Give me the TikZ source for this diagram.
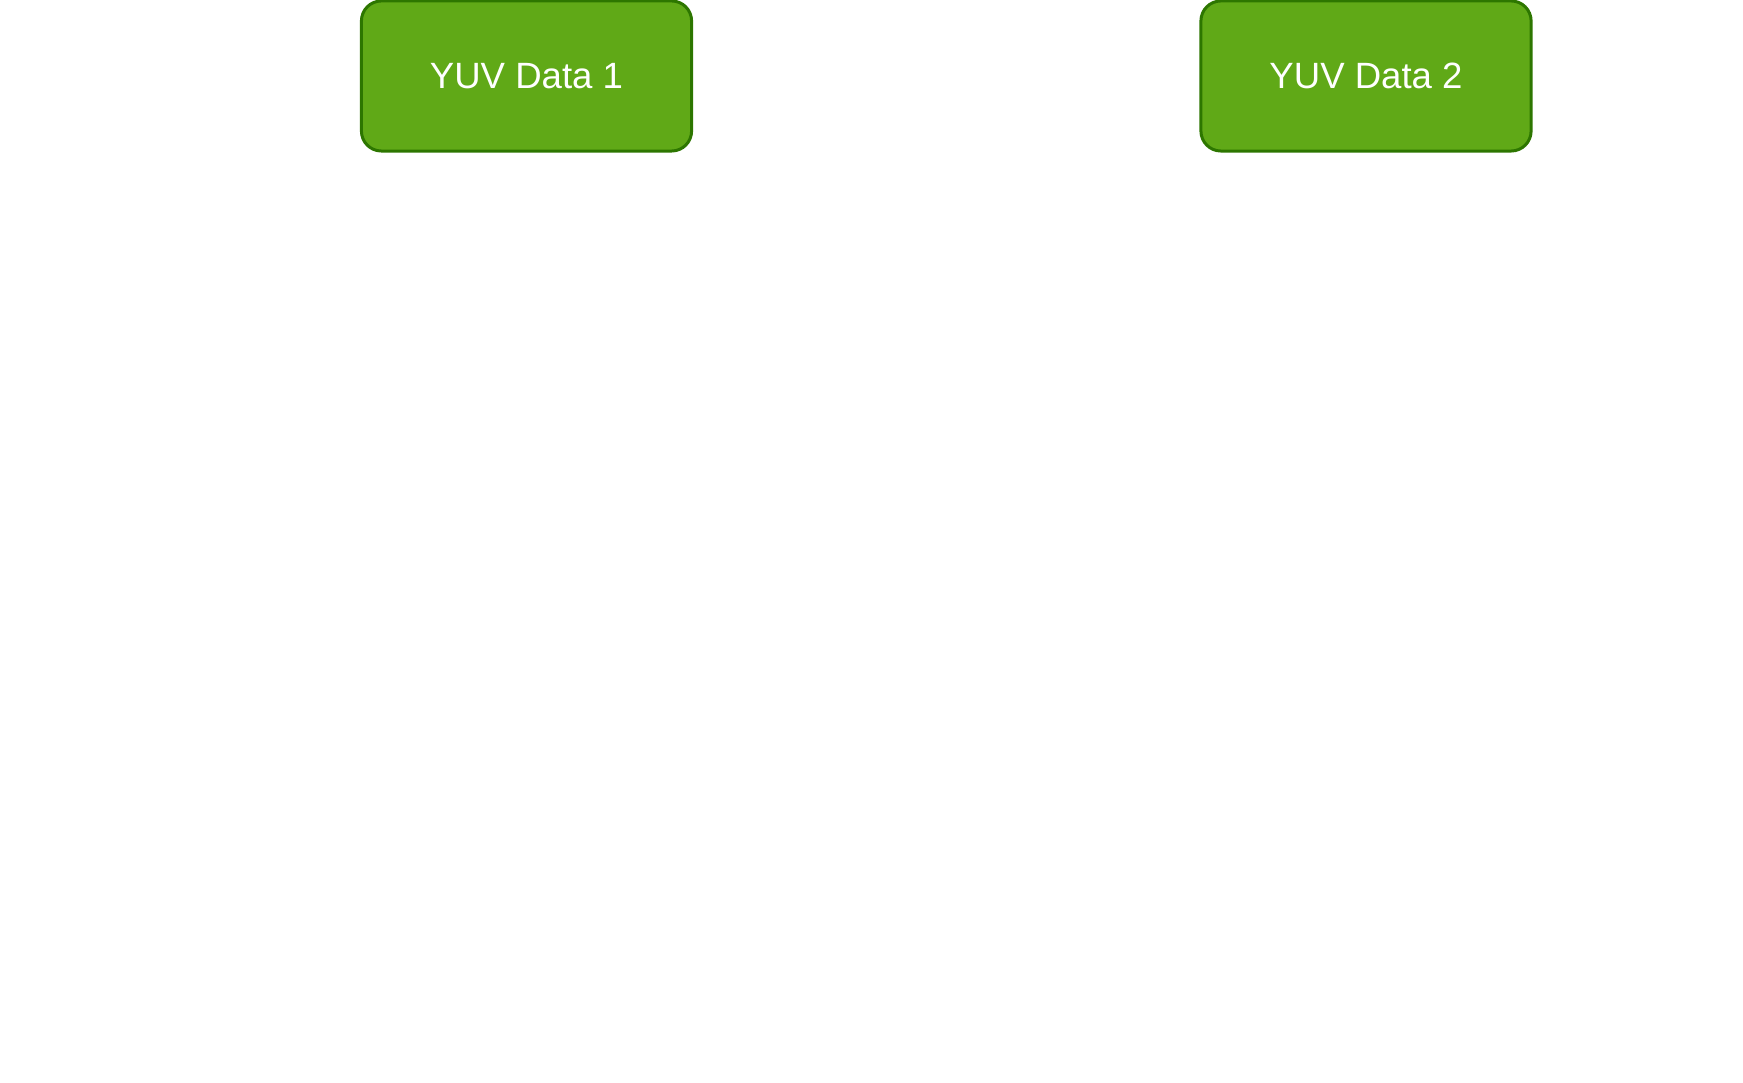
\documentclass[tikz,border=0pt]{standalone}
\usepackage{fontspec}
\setmainfont{Liberation Sans}
\usepackage{tikz}
\usetikzlibrary{positioning}

\definecolor{yuvfill}{HTML}{60A917}
\definecolor{yuvline}{HTML}{2D7600}

\tikzset{
    yuvbox/.style={draw=yuvline, fill=yuvfill, line width=0.85pt, rounded corners=0.2cm,
        minimum width=3.30cm, minimum height=1.50cm, text=white, font=\fontsize{10.4}{12}\selectfont}
}

\begin{document}
\begin{tikzpicture}[x=0.01cm, y=-0.01cm]
    % 画布大小
    \useasboundingbox (0,0) rectangle (1743,1083);

    % 两个数据块
    \node[yuvbox] (yuv1) at (526.5,76) {YUV Data 1};
    \node[yuvbox] (yuv2) at (1366,76) {YUV Data 2};
\end{tikzpicture}
\end{document}
